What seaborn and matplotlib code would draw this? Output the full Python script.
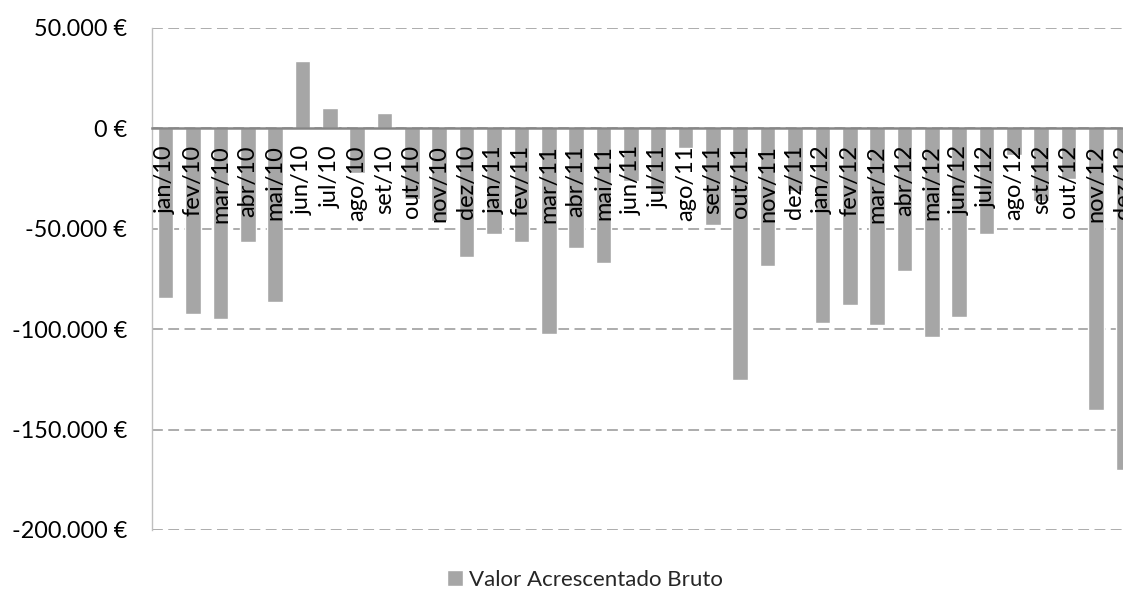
import pandas as pd
import matplotlib.pyplot as plt
import seaborn as sns
from matplotlib.ticker import FuncFormatter

# meses e valores (euros)
meses = ["jan/10", "fev/10", "mar/10", "abr/10", "mai/10", "jun/10",
         "jul/10", "ago/10", "set/10", "out/10", "nov/10", "dez/10",
         "jan/11", "fev/11", "mar/11", "abr/11", "mai/11", "jun/11",
         "jul/11", "ago/11", "set/11", "out/11", "nov/11", "dez/11",
         "jan/12", "fev/12", "mar/12", "abr/12", "mai/12", "jun/12",
         "jul/12", "ago/12", "set/12", "out/12", "nov/12", "dez/12"]
valores = [-84500, -92500, -94700, -56500, -86700, 33700,
           10000, -22400, 7800, -35200, -46000, -63800,
           -52500, -56500, -102500, -59800, -67000, -26000,
           -32500, -10000, -48300, -125400, -68400, -31000,
           -96800, -87700, -97800, -70800, -103800, -93900,
           -52800, -13000, -36000, -25000, -140400, -170300]
serie = "Valor Acrescentado Bruto"
y_ticks = [-200000, -150000, -100000, -50000, 0, 50000]

df = pd.DataFrame({"mes": meses, "valor": valores})

sns.set_theme(style="white")
plt.rcParams["font.family"] = ["Lato", "DejaVu Sans"]
plt.rcParams["axes.unicode_minus"] = False

fig = plt.figure(figsize=(11.23, 5.9), dpi=100)
ax = fig.add_axes([152 / 1123, 60 / 590, 985 / 1123, 502 / 590])

sns.barplot(data=df, x="mes", y="valor", color="#A6A6A6", saturation=1,
            width=0.57, label=serie, ax=ax)

ax.set_xlim(-0.5, len(meses) - 0.5)
ax.set_ylim(-200000, 50000)
ax.set_yticks(y_ticks)
ax.yaxis.set_major_formatter(
    FuncFormatter(lambda v, p: f"{v:,.0f} €".replace(",", ".")))
ax.set_xlabel("")
ax.set_ylabel("")

# grelha tracejada
ax.grid(axis="y", color="#A6A6A6", linestyle=(0, (6, 3)), linewidth=1.3)
ax.grid(axis="x", visible=False)

# eixo horizontal no zero
ax.spines["bottom"].set_position(("data", 0))
ax.spines["bottom"].set_color("#868686")
ax.spines["bottom"].set_linewidth(1.8)
ax.spines["left"].set_color("#BFBFBF")
ax.spines["left"].set_linewidth(1)
ax.spines["top"].set_visible(False)
ax.spines["right"].set_visible(False)

ax.tick_params(axis="x", length=0, pad=12, labelsize=17, labelrotation=90,
               colors="black")
ax.tick_params(axis="y", length=0, pad=18, labelsize=16.8, colors="black")

# rótulos por cima das barras, grelha por baixo
ax.xaxis.set_zorder(3)
ax.yaxis.set_zorder(0.5)

if ax.get_legend() is not None:
    ax.get_legend().remove()
handles, labels = ax.get_legend_handles_labels()
fig.legend(handles, labels, loc="center", bbox_to_anchor=(0.521, 0.017),
           frameon=False, fontsize=16, handlelength=0.7, handleheight=0.7,
           handletextpad=0.3)

fig.savefig("out.png", dpi=100)
